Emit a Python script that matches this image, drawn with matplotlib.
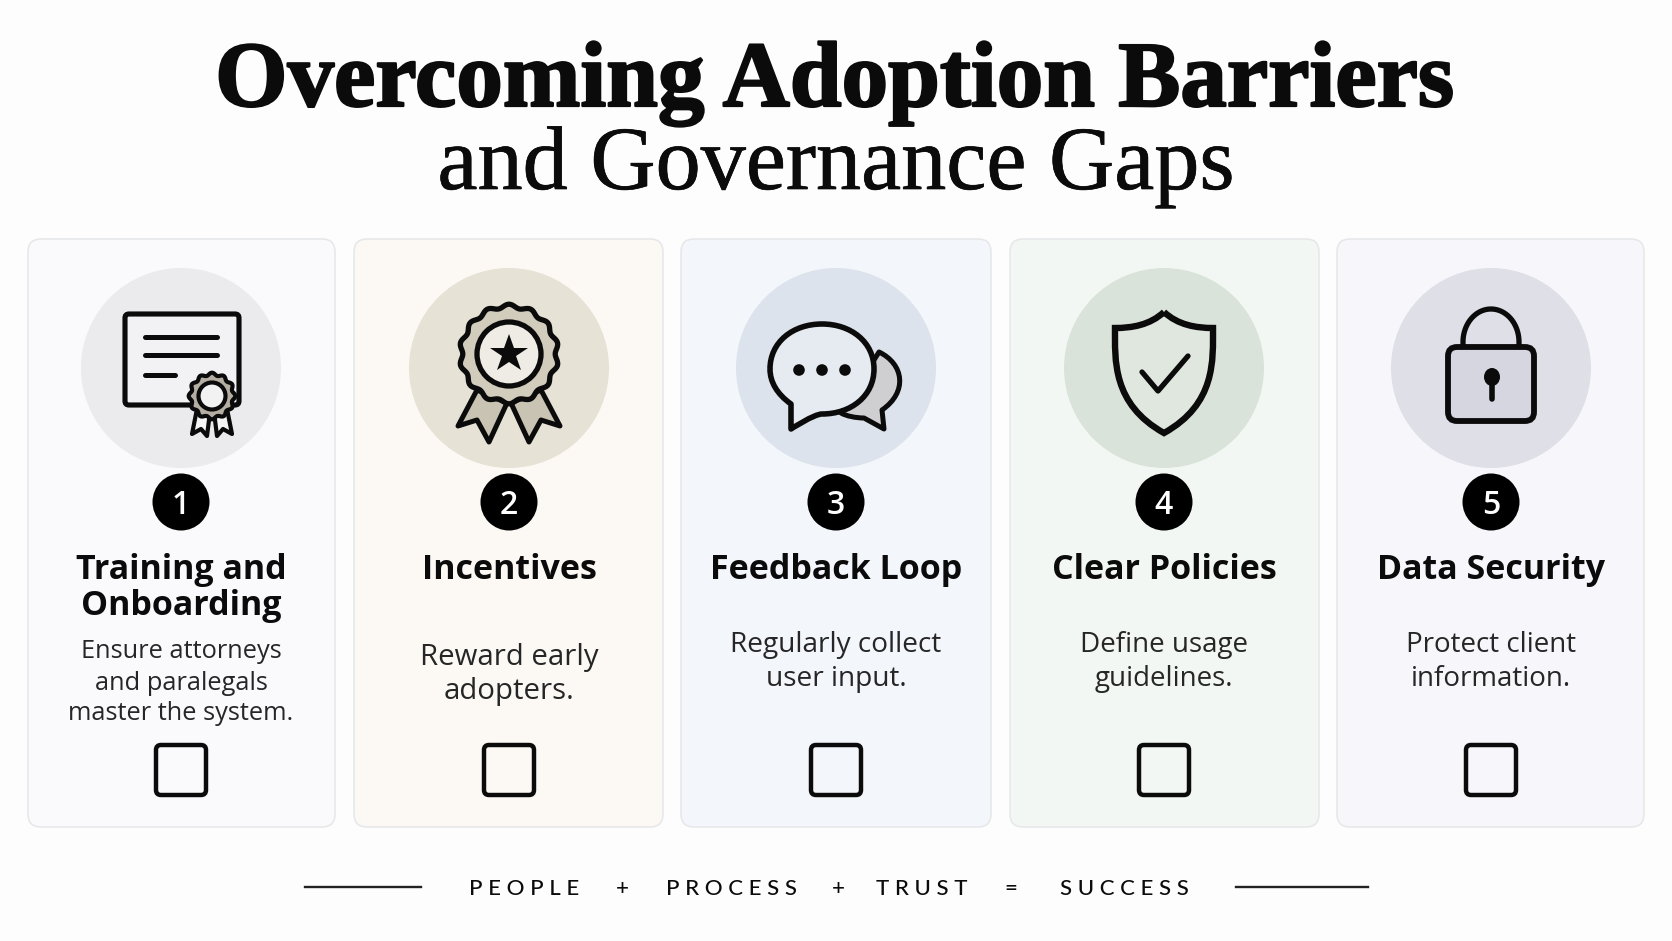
import numpy as np
import matplotlib
matplotlib.use("Agg")
import matplotlib.pyplot as plt
import matplotlib.patheffects as pe
from matplotlib.patches import Circle, Ellipse, FancyBboxPatch, PathPatch, Polygon
from matplotlib.path import Path

# Contenu de l'infographie
title_bold = "Overcoming Adoption Barriers"
title_light = "and Governance Gaps"
step_numbers = ["1", "2", "3", "4", "5"]
step_titles = ["Training and\nOnboarding", "Incentives", "Feedback Loop", "Clear Policies", "Data Security"]
step_texts = [
    "Ensure attorneys\nand paralegals\nmaster the system.",
    "Reward early\nadopters.",
    "Regularly collect\nuser input.",
    "Define usage\nguidelines.",
    "Protect client\ninformation.",
]
footer_words = ["P E O P L E", "+", "P R O C E S S", "+", "T R U S T", "=", "S U C C E S S"]

# Couleurs
card_colors = ["#fafafc", "#fcf9f5", "#f3f6fb", "#f2f7f3", "#f6f6fb"]
disc_colors = ["#ebebee", "#e6e2d6", "#dde3ec", "#dae3da", "#dfdfe7"]
INK = "#0b0b0b"

# Mise en page, en pixels de l'image
card_left = [28, 354, 681, 1010, 1337]
card_right = [335, 663, 991, 1319, 1644]
card_center = [181, 509, 836, 1164, 1491]
text_tops = [649, 654, 642, 642, 642]
text_gaps = [31, 34, 34, 34, 34]
text_sizes = [18.3, 21.2, 20.2, 20.0, 20.0]
footer_x = [524, 622, 732, 838, 922, 1011, 1124]

fig = plt.figure(figsize=(16.72, 9.41), dpi=100, facecolor="#fdfdfd")
ax = fig.add_axes([0, 0, 1, 1])
ax.set_xlim(0, 1672)
ax.set_ylim(941, 0)
ax.axis("off")


def stroke(cx, cy, xs, ys, lw=3.6, z=5):
    ax.plot(cx + np.array(xs), cy + np.array(ys), color=INK, lw=lw, zorder=z,
            solid_capstyle="round", solid_joinstyle="round")


def wavy(cx, cy, radius, depth, lobes, fill, lw, z):
    # rosette a bord ondule
    t = np.linspace(0, 2 * np.pi, 240)
    r = radius + depth * np.cos(lobes * t)
    pts = np.column_stack([cx + r * np.sin(t), cy - r * np.cos(t)])
    ax.add_patch(Polygon(pts, closed=True, fc=fill, ec=INK, lw=lw, zorder=z, joinstyle="round"))


def icon_certificate(cx, cy):
    ax.add_patch(FancyBboxPatch((cx - 56, cy - 54), 114, 91, boxstyle="round,pad=0,rounding_size=4",
                                fc="#f2f2f4", ec=INK, lw=3.7, zorder=3))
    stroke(cx, cy, [-36, 36], [-31, -31])
    stroke(cx, cy, [-36, 36], [-13, -13])
    stroke(cx, cy, [-36, -6], [7, 7])
    sx, sy = cx + 31, cy + 28
    for sign in (-1, 1):
        pts = [(sx + sign * 2, sy + 16), (sx + sign * 15, sy + 13), (sx + sign * 20, sy + 38),
               (sx + sign * 11, sy + 33), (sx + sign * 5, sy + 40)]
        ax.add_patch(Polygon(pts, closed=True, fc="#f5f5f6", ec=INK, lw=3.0, zorder=4, joinstyle="round"))
    wavy(sx, sy, 22, 1.3, 12, "#b5afa3", 3.0, 5)
    ax.add_patch(Circle((sx, sy), 13.5, fc="#f2f2f3", ec=INK, lw=3.0, zorder=6))


def icon_rosette(cx, cy):
    rx, ry = cx, cy - 14
    for sign in (-1, 1):
        pts = [(cx + sign * 32, cy + 22), (cx + sign * 51, cy + 58), (cx + sign * 32, cy + 52),
               (cx + sign * 20, cy + 74), (cx + sign * 2, cy + 35)]
        ax.add_patch(Polygon(pts, closed=True, fc="#c9c3b3", ec=INK, lw=3.6, zorder=3, joinstyle="round"))
    wavy(rx, ry, 48, 1.8, 14, "#d2ccbd", 3.8, 4)
    ax.add_patch(Circle((rx, ry), 32, fc="#efece5", ec=INK, lw=3.8, zorder=5))
    ax.plot([rx], [ry], marker="*", ms=29, color=INK, mew=0, zorder=6)


def icon_bubbles(cx, cy):
    back = Path([(cx + 43, cy - 16), (cx + 68, cy - 4), (cx + 72, cy + 24), (cx + 46, cy + 42),
                 (cx + 48, cy + 61), (cx + 28, cy + 50), (cx + 20, cy + 50), (cx + 10, cy + 48), (cx + 5, cy + 45),
                 (cx + 43, cy - 16)],
                [Path.MOVETO, Path.CURVE4, Path.CURVE4, Path.CURVE4, Path.LINETO, Path.LINETO,
                 Path.CURVE4, Path.CURVE4, Path.CURVE4, Path.CLOSEPOLY])
    ax.add_patch(PathPatch(back, fc="#cfcfd2", ec=INK, lw=3.6, zorder=3, joinstyle="round"))
    bubble = Path([(cx - 66, cy + 1), (cx - 66, cy - 26), (cx - 43, cy - 44), (cx - 14, cy - 44),
                   (cx + 15, cy - 44), (cx + 38, cy - 26), (cx + 38, cy + 1),
                   (cx + 38, cy + 28), (cx + 15, cy + 46), (cx - 14, cy + 46),
                   (cx - 22, cy + 46), (cx - 45, cy + 61), (cx - 45, cy + 61),
                   (cx - 45, cy + 61), (cx - 45, cy + 36), (cx - 45, cy + 36),
                   (cx - 59, cy + 26), (cx - 66, cy + 14), (cx - 66, cy + 1)],
                  [Path.MOVETO] + [Path.CURVE4] * 18)
    ax.add_patch(PathPatch(bubble, fc="#e6ebf2", ec=INK, lw=4.0, zorder=4, joinstyle="round"))
    for dx in (-37, -14, 9):
        ax.add_patch(Circle((cx + dx, cy + 2), 5.8, fc=INK, ec="none", zorder=5))


def icon_shield(cx, cy):
    shield = Path([(cx, cy - 56), (cx - 14, cy - 43), (cx - 32, cy - 40), (cx - 49, cy - 40),
                   (cx - 49, cy - 8), (cx - 52, cy + 36), (cx, cy + 65),
                   (cx + 52, cy + 36), (cx + 49, cy - 8), (cx + 49, cy - 40),
                   (cx + 32, cy - 40), (cx + 14, cy - 43), (cx, cy - 56)],
                  [Path.MOVETO] + [Path.CURVE4] * 12)
    ax.add_patch(PathPatch(shield, fc="#e0e7df", ec=INK, lw=4.6, zorder=4, joinstyle="miter"))
    stroke(cx, cy, [-22, -6, 24], [4, 23, -12], lw=3.8)


def icon_lock(cx, cy):
    th = np.linspace(np.pi, 0, 40)
    xs = 28 * np.cos(th)
    ys = -33 * np.sin(th) - 26
    stroke(cx, cy, np.r_[-28, xs, 28], np.r_[-22, ys, -22], lw=3.8, z=3)
    ax.add_patch(FancyBboxPatch((cx - 43, cy - 21), 86, 74, boxstyle="round,pad=0,rounding_size=9",
                                fc="#d6d6e1", ec=INK, lw=4.2, zorder=4))
    ax.add_patch(Ellipse((cx + 1, cy + 9), 16, 18, fc=INK, ec="none", zorder=5))
    stroke(cx + 1, cy, [0, 0], [10, 31], lw=4.0)


icons = [icon_certificate, icon_rosette, icon_bubbles, icon_shield, icon_lock]

# Titre
ax.text(834, 106, title_bold, ha="center", va="baseline", fontsize=67, color=INK,
        family="Liberation Serif", weight="bold",
        path_effects=[pe.withStroke(linewidth=1.6, foreground=INK)])
ax.text(836, 189, title_light, ha="center", va="baseline", fontsize=65, color=INK,
        family="Liberation Serif",
        path_effects=[pe.withStroke(linewidth=0.5, foreground=INK)])

# Les cinq cartes
for i in range(5):
    cx = card_center[i]
    ax.add_patch(FancyBboxPatch((card_left[i], 239), card_right[i] - card_left[i], 588,
                                boxstyle="round,pad=0,rounding_size=13",
                                fc=card_colors[i], ec="#e7e8ea", lw=1.2, zorder=1))
    ax.add_patch(Circle((cx, 368), 100, fc=disc_colors[i], ec="none", zorder=2))
    icons[i](cx, 368)

    ax.add_patch(Circle((cx, 502), 28.5, fc="#000000", ec="none", zorder=3))
    ax.text(cx, 502, step_numbers[i], ha="center", va="center_baseline", color="white",
            fontsize=23, family="Open Sans", weight="semibold", zorder=4)

    for k, line in enumerate(step_titles[i].split("\n")):
        ax.text(cx, 570 + 36 * k, line, ha="center", va="center", color=INK,
                fontsize=24.5, family="Open Sans", weight="bold", zorder=4)
    for k, line in enumerate(step_texts[i].split("\n")):
        ax.text(cx, text_tops[i] + 3 + text_gaps[i] * k, line, ha="center", va="center", color="#262626",
                fontsize=text_sizes[i], family="Open Sans", zorder=4)

    ax.add_patch(FancyBboxPatch((cx - 25, 745), 50, 50, boxstyle="round,pad=0,rounding_size=5",
                                fc="none", ec=INK, lw=3.2, zorder=4))

# Bas de page
ax.plot([305, 421], [887, 887], color="#222222", lw=1.7)
ax.plot([1236, 1368], [887, 887], color="#222222", lw=1.7)
for x, word in zip(footer_x, footer_words):
    ax.text(x, 889, word, ha="center", va="center", color=INK, fontsize=16, family="Lato", weight="medium")

fig.savefig("out.png", dpi=100, facecolor=fig.get_facecolor())
